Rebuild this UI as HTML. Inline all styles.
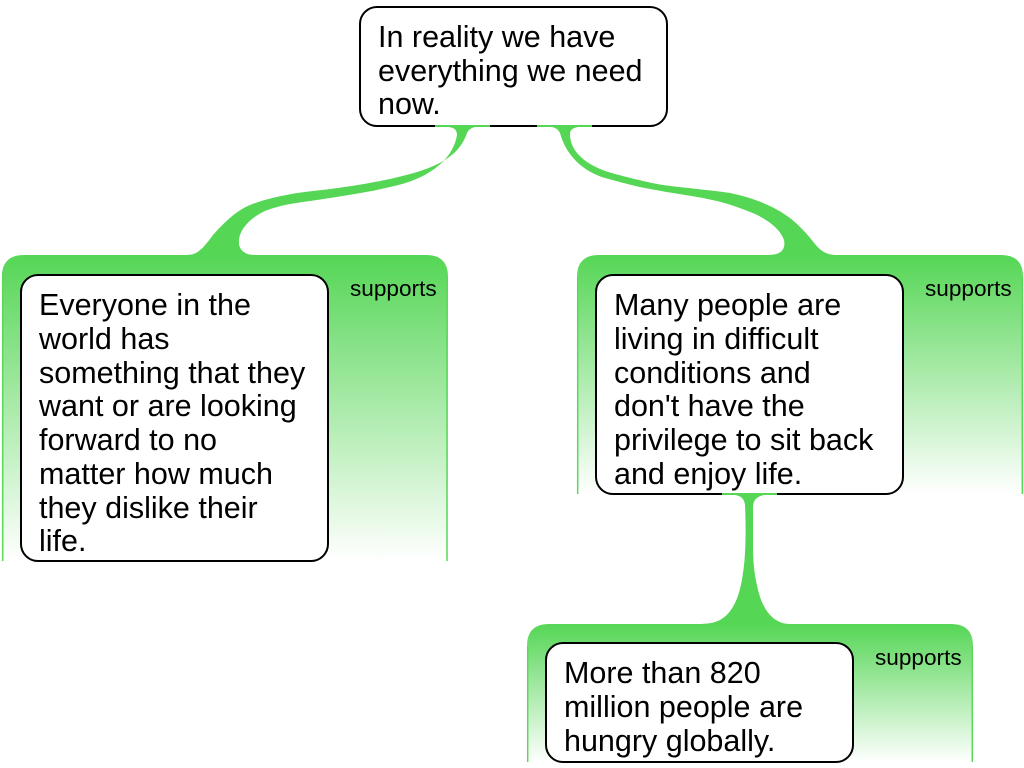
<!DOCTYPE html>
<html><head><meta charset="utf-8">
<style>html,body{margin:0;padding:0;background:#fff;width:1024px;height:768px;overflow:hidden}svg{display:block}
text{font-family:"Liberation Sans",Arial,sans-serif;fill:#000}
.m{font-size:30.5px}.s{font-size:22.6px}</style></head>
<body>
<svg width="1024" height="768" viewBox="0 0 1024 768" xmlns="http://www.w3.org/2000/svg">
<defs>
<linearGradient id="a" gradientUnits="userSpaceOnUse" x1="0" y1="255" x2="0" y2="561"><stop offset="0" stop-color="#55d655"/><stop offset="1" stop-color="#fff"/></linearGradient>
<linearGradient id="b" gradientUnits="userSpaceOnUse" x1="0" y1="255" x2="0" y2="494"><stop offset="0" stop-color="#55d655"/><stop offset="1" stop-color="#fff"/></linearGradient>
<linearGradient id="c" gradientUnits="userSpaceOnUse" x1="0" y1="624" x2="0" y2="762"><stop offset="0" stop-color="#55d655"/><stop offset="1" stop-color="#fff"/></linearGradient>
</defs>

<path d="M2 561V277Q2 255 24 255H426Q448 255 448 277V561Z" fill="url(#a)"/>
<path d="M2.7 561V277Q2.7 256 24 256M447 277V561" fill="none" stroke="#5ad85a" stroke-width="1.5"/>
<path d="M577 494V277Q577 255 599 255H1001Q1023 255 1023 277V494Z" fill="url(#b)"/>
<path d="M577.7 494V277M1022.3 277V494" fill="none" stroke="#5ad85a" stroke-width="1.5"/>
<path d="M527 762V646Q527 624 549 624H951Q973 624 973 646V762Z" fill="url(#c)"/>
<path d="M527.7 762V646M972.3 646V762" fill="none" stroke="#5ad85a" stroke-width="1.5"/>

<path fill="#55d655" d="M490 126C475 126 470 127 467 133C458 160 430 170 390 179C375 182 350 187 313 191C295 193 270 197 250 205C235 211 222 225 213 235C207 243 203 248 200 250C197 253 193 255 186 255H255C243 255 238 248 239 240C240 228 252 217 265 211C280 205 295 203 310 201C335 197 365 193 390 187C420 181 452 165 457 135C457 128 452 126 435 126Z"/>
<path fill="#55d655" d="M537 126C552 126 557 127 560 133C566 155 582 171 605 178C620 182 630 185 645 188C665 192 680 194 697 197C715 200 730 204 745 210C765 217 780 228 784 240C786 250 780 255 768 255H836C826 255 820 250 815 244C808 235 800 226 790 218C775 207 755 198 730 193C710 190 685 188 663 185C650 183 630 178 615 174C592 168 570 155 570 134C570 128 576 126 592 126Z"/>
<path fill="#55d655" d="M722 494C738 494 744 496 745 505C746 525 746 555 743 573C740 595 734 612 720 620C714 623 708 624 697 624H790C775 624 765 612 760 597C755 580 753 565 753 547L753 506C754 497 760 494 777 494Z"/>

<rect x="360" y="7" width="307" height="119" rx="17" fill="#fff" stroke="#000" stroke-width="2"/>
<rect x="21" y="275" width="307" height="286" rx="17" fill="#fff" stroke="#000" stroke-width="2"/>
<rect x="596" y="275" width="307" height="219" rx="17" fill="#fff" stroke="#000" stroke-width="2"/>
<rect x="546" y="643" width="307" height="119" rx="17" fill="#fff" stroke="#000" stroke-width="2"/>

<path d="M435 126H490M537 126H592M722 494H777" stroke="#55d655" stroke-width="2" fill="none"/>

<g class="m">
<text x="378" y="47">In reality we have</text>
<text x="378" y="81">everything we need</text>
<text x="378" y="114">now.</text>

<text x="39" y="315">Everyone in the</text>
<text x="39" y="349">world has</text>
<text x="39" y="383">something that they</text>
<text x="39" y="416">want or are looking</text>
<text x="39" y="450">forward to no</text>
<text x="39" y="484">matter how much</text>
<text x="39" y="518">they dislike their</text>
<text x="39" y="551">life.</text>

<text x="614" y="315">Many people are</text>
<text x="614" y="349">living in difficult</text>
<text x="614" y="383">conditions and</text>
<text x="614" y="416">don't have the</text>
<text x="614" y="450">privilege to sit back</text>
<text x="614" y="484">and enjoy life.</text>

<text x="564" y="683">More than 820</text>
<text x="564" y="717">million people are</text>
<text x="564" y="751">hungry globally.</text>
</g>
<g class="s">
<text x="350" y="296">supports</text>
<text x="925" y="296">supports</text>
<text x="875" y="665">supports</text>
</g>
</svg>
</body></html>
